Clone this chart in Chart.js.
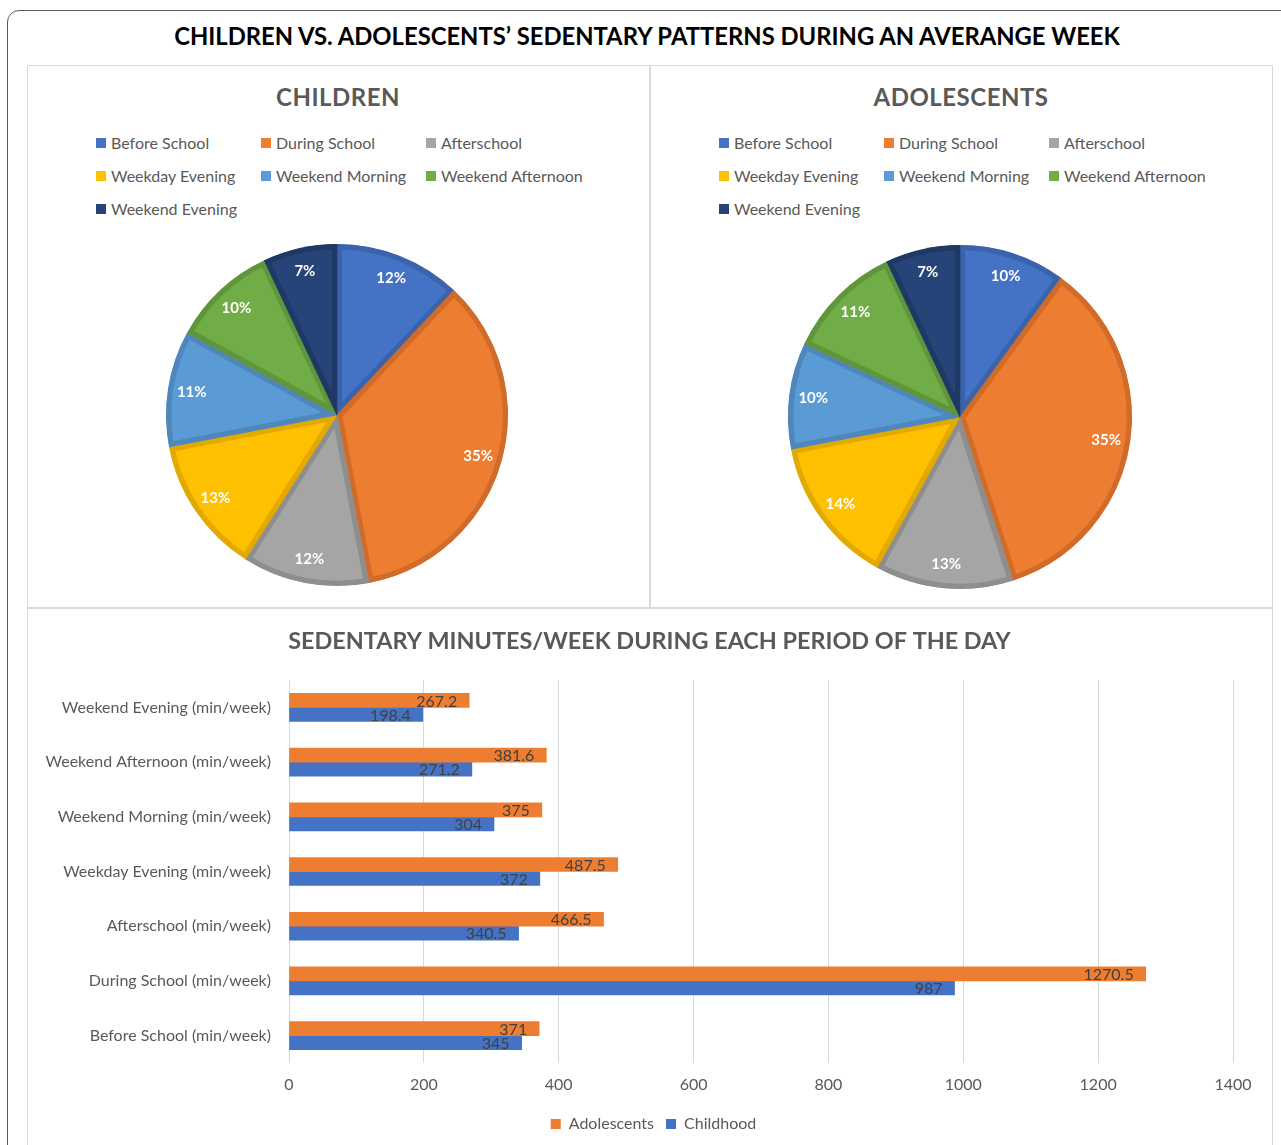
<!DOCTYPE html>
<html>
<head>
<meta charset="utf-8">
<script src="https://cdn.jsdelivr.net/npm/chart.js@4.4.1/dist/chart.umd.min.js"></script>
<style>
	body { margin: 0; width: 1281px; height: 1145px; overflow: hidden; background: #fff; font-family: Lato, sans-serif; position: relative; }
	#frame { position: absolute; left: 7px; top: 10px; width: 1320px; height: 1200px; border: 1.5px solid #5a5a5a; border-radius: 12px; box-sizing: border-box; }
	#mainTitle { position: absolute; left: 0; top: 21px; width: 1294px; text-align: center; font: bold 23.8px Lato, sans-serif; line-height: 30px; color: #000; }
	.panel { position: absolute; border: 1px solid #d9d9d9; box-sizing: border-box; }
	.pieTitle { position: absolute; width: 400px; text-align: center; font: bold 24px Lato, sans-serif; line-height: 30px; color: #595959; letter-spacing: 0.5px; }
	.legend { position: absolute; }
	.legend .item { position: absolute; white-space: nowrap; font: 16px Lato, sans-serif; line-height: 20px; color: #595959; }
	.legend .box { position: absolute; left: 0; top: 5px; width: 10px; height: 10px; }
	.legend .text { position: absolute; left: 15px; top: 0; }
	.pieBox { position: absolute; width: 360px; height: 360px; }
	#barBox { position: absolute; left: 28px; top: 610px; width: 1243px; height: 535px; }
</style>
</head>
<body>
<div id="frame"></div>
<div id="mainTitle">CHILDREN VS. ADOLESCENTS’ SEDENTARY PATTERNS DURING AN AVERANGE WEEK</div>

<div class="panel" style="left:27px; top:65px; width:623px; height:543px;"></div>
<div class="panel" style="left:650px; top:65px; width:623px; height:543px;"></div>
<div class="panel" style="left:27px; top:608px; width:1246px; height:600px;"></div>

<div class="pieTitle" style="left:138px; top:82px;">CHILDREN</div>
<div class="pieTitle" style="left:761px; top:82px;">ADOLESCENTS</div>

<div class="legend" id="legendChildren" style="left:96px; top:133px;"></div>
<div class="legend" id="legendAdolescents" style="left:719px; top:133px;"></div>

<div class="pieBox" style="left:157px; top:235px;"><canvas id="pieChildren"></canvas></div>
<div class="pieBox" style="left:780px; top:237px;"><canvas id="pieAdolescents"></canvas></div>

<div id="barBox"><canvas id="barChart"></canvas></div>

<script>
let periods = ['Before School', 'During School', 'Afterschool', 'Weekday Evening', 'Weekend Morning', 'Weekend Afternoon', 'Weekend Evening'];
let periodColors = ['#4472C4', '#ED7D31', '#A5A5A5', '#FFC000', '#5B9BD5', '#70AD47', '#264478'];
let periodBorders = ['#3A63AC', '#D06B29', '#8E8E8E', '#E2A900', '#4F87BC', '#5F963C', '#1F3964'];

// pie percentages as printed on the slices
let childrenShare = [12, 35, 12, 13, 11, 10, 7];
let adolescentShare = [10, 35, 13, 14, 10, 11, 7];

// bar chart, top row first
let barCategories = [
	'Weekend Evening (min/week)',
	'Weekend Afternoon (min/week)',
	'Weekend Morning (min/week)',
	'Weekday Evening (min/week)',
	'Afterschool (min/week)',
	'During School (min/week)',
	'Before School (min/week)'
];
let adolescentMinutes = [267.2, 381.6, 375, 487.5, 466.5, 1270.5, 371];
let childhoodMinutes = [198.4, 271.2, 304, 372, 340.5, 987, 345];

const textGray = '#595959';

function buildLegend(id) {
	let holder = document.getElementById(id);
	periods.forEach((name, i) => {
		let item = document.createElement('div');
		item.className = 'item';
		item.style.left = (i % 3) * 165 + 'px';
		item.style.top = Math.floor(i / 3) * 33 + 'px';
		item.innerHTML = `<span class="box" style="background:${periodColors[i]}"></span><span class="text">${name}</span>`;
		holder.appendChild(item);
	});
}
buildLegend('legendChildren');
buildLegend('legendAdolescents');

const pieLabels = {
	id: 'pieLabels',
	afterDatasetsDraw(chart) {
		let ctx = chart.ctx;
		let meta = chart.getDatasetMeta(0);
		let values = chart.data.datasets[0].data;
		ctx.save();
		ctx.font = 'bold 15px Lato';
		ctx.fillStyle = '#ffffff';
		ctx.textAlign = 'center';
		ctx.textBaseline = 'middle';
		meta.data.forEach((arc, i) => {
			let p = arc.getProps(['x', 'y', 'startAngle', 'endAngle', 'outerRadius'], true);
			let mid = (p.startAngle + p.endAngle) / 2;
			let r = p.outerRadius * 0.86;
			ctx.fillText(values[i] + '%', p.x + Math.cos(mid) * r, p.y + Math.sin(mid) * r);
		});
		ctx.restore();
	}
};

function makePie(canvasId, values, pad) {
	return new Chart(document.getElementById(canvasId), {
		type: 'pie',
		data: {
			labels: periods,
			datasets: [{
				data: values,
				backgroundColor: periodColors,
				borderColor: periodBorders,
				borderWidth: 5,
				hoverBorderWidth: 5,
				borderAlign: 'inner'
			}]
		},
		options: {
			responsive: true,
			maintainAspectRatio: false,
			animation: false,
			events: [],
			layout: { padding: pad },
			plugins: {
				legend: { display: false },
				tooltip: { enabled: false }
			}
		},
		plugins: [pieLabels]
	});
}

makePie('pieChildren', childrenShare, 9);
makePie('pieAdolescents', adolescentShare, 8);

const barLabels = {
	id: 'barLabels',
	afterDatasetsDraw(chart) {
		let ctx = chart.ctx;
		ctx.save();
		ctx.font = '16px Lato';
		ctx.fillStyle = '#404040';
		ctx.textAlign = 'right';
		ctx.textBaseline = 'middle';
		chart.data.datasets.forEach((ds, di) => {
			chart.getDatasetMeta(di).data.forEach((bar, i) => {
				ctx.fillText(String(ds.data[i]), bar.x - 12, bar.y + 1);
			});
		});
		ctx.restore();
	}
};

// title and legend centred on the whole panel, not on the padded area
const recenter = {
	id: 'recenter',
	afterLayout(chart) {
		let t = chart.titleBlock;
		t.left = 0;
		t.right = chart.width;
		t.width = chart.width;
		let l = chart.legend;
		l.left = 0;
		l.right = 1251;
		l.width = 1251;
	}
};

new Chart(document.getElementById('barChart'), {
	type: 'bar',
	data: {
		labels: barCategories,
		datasets: [
			{ label: 'Adolescents', data: adolescentMinutes, backgroundColor: '#ED7D31', barThickness: 14 },
			{ label: 'Childhood', data: childhoodMinutes, backgroundColor: '#4472C4', barThickness: 14 }
		]
	},
	options: {
		indexAxis: 'y',
		responsive: true,
		maintainAspectRatio: false,
		animation: false,
		events: [],
		layout: { padding: { left: 0, right: 38, top: 0, bottom: 3 } },
		scales: {
			x: {
				min: 0,
				max: 1400,
				ticks: { stepSize: 200, color: textGray, font: { family: 'Lato', size: 16 }, padding: 12, callback: (v) => String(v) },
				grid: { color: '#d9d9d9', drawTicks: false },
				border: { display: false },
				afterFit: (scale) => { scale.height = 41; }
			},
			y: {
				ticks: { color: textGray, font: { family: 'Lato', size: 16 }, padding: 10 },
				grid: { display: false },
				border: { display: false },
				afterFit: (scale) => { scale.width = 261; }
			}
		},
		plugins: {
			title: {
				display: true,
				text: 'SEDENTARY MINUTES/WEEK DURING EACH PERIOD OF THE DAY',
				color: textGray,
				font: { family: 'Lato', size: 23.4, weight: 'bold' },
				padding: { top: 17, bottom: 25 }
			},
			legend: {
				position: 'bottom',
				labels: { boxWidth: 10, boxHeight: 10, color: textGray, font: { family: 'Lato', size: 16 }, padding: 12 }
			},
			tooltip: { enabled: false }
		}
	},
	plugins: [barLabels, recenter]
});
</script>
</body>
</html>
